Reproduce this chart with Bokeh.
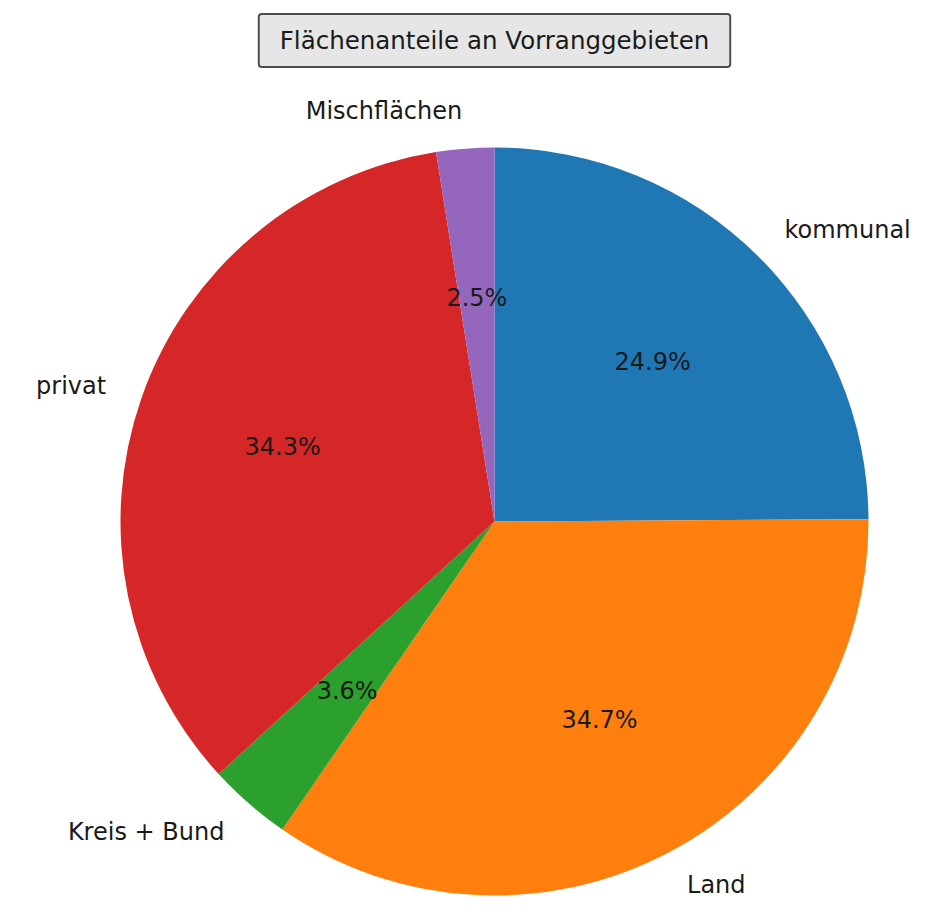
import math
from bokeh.plotting import figure
from bokeh.models import Range1d, Label, ColumnDataSource
from bokeh.core.properties import value
from bokeh.embed import file_html
from bokeh.resources import INLINE

categories = ["kommunal", "Land", "Kreis + Bund", "privat", "Mischflächen"]
shares = [24.9, 34.7, 3.6, 34.3, 2.5]
colors = ["#1f77b4", "#ff7f0e", "#2ca02c", "#d62728", "#9467bd"]
title_text = "Flächenanteile an Vorranggebieten"

R = 374.0
W, H = 928, 900
cx_px, cy_px = 494, 521  # pie centre within the figure (pixels)

p = figure(width=W, height=H, output_backend="svg", toolbar_location=None,
           x_range=Range1d(-cx_px, W - cx_px), y_range=Range1d(-(H - cy_px), cy_px),
           min_border=0, outline_line_color=None)
p.axis.visible = False
p.grid.visible = False
p.background_fill_color = "white"
p.border_fill_color = "white"

total = sum(shares)
starts, ends, mids = [], [], []
cum = 0.0
for s in shares:
    a0 = math.pi / 2 - 2 * math.pi * cum / total
    cum += s
    a1 = math.pi / 2 - 2 * math.pi * cum / total
    starts.append(a1)
    ends.append(a0)
    mids.append((a0 + a1) / 2)

src = ColumnDataSource(dict(start=starts, end=ends, color=colors, cat=categories))
p.wedge(x=0, y=0, radius=R, start_angle="start", end_angle="end",
        fill_color="color", line_color=None, source=src)

font = value("DejaVu Sans")
fs = "24px"

# category labels at 1.1 R
lx = [1.1 * R * math.cos(m) for m in mids]
ly = [1.1 * R * math.sin(m) for m in mids]
align = ["left" if x > 0 else "right" for x in lx]
p.text(x=lx, y=ly, text=categories, text_align=align, text_baseline="middle",
       text_font=font, text_font_size=fs, text_color="#1a1a1a")

# percentage labels at 0.6 R
px = [0.6 * R * math.cos(m) for m in mids]
py = [0.6 * R * math.sin(m) for m in mids]
pct = [f"{s:.1f}%" for s in shares]
p.text(x=px, y=py, text=pct, text_align="center", text_baseline="middle",
       text_font=font, text_font_size=fs, text_color="#1a1a1a")

title = Label(x=0, y=cy_px - 40, text=title_text, text_align="center",
              text_baseline="middle", text_font="DejaVu Sans", text_font_size="24.5px",
              text_color="#1a1a1a", background_fill_color="#e6e6e6",
              border_line_color="#4d4d4d", border_line_width=2,
              padding=dict(left=21, right=21, top=12, bottom=12), border_radius=3)
p.add_layout(title)

open("out.html", "w").write(file_html(p, INLINE))
